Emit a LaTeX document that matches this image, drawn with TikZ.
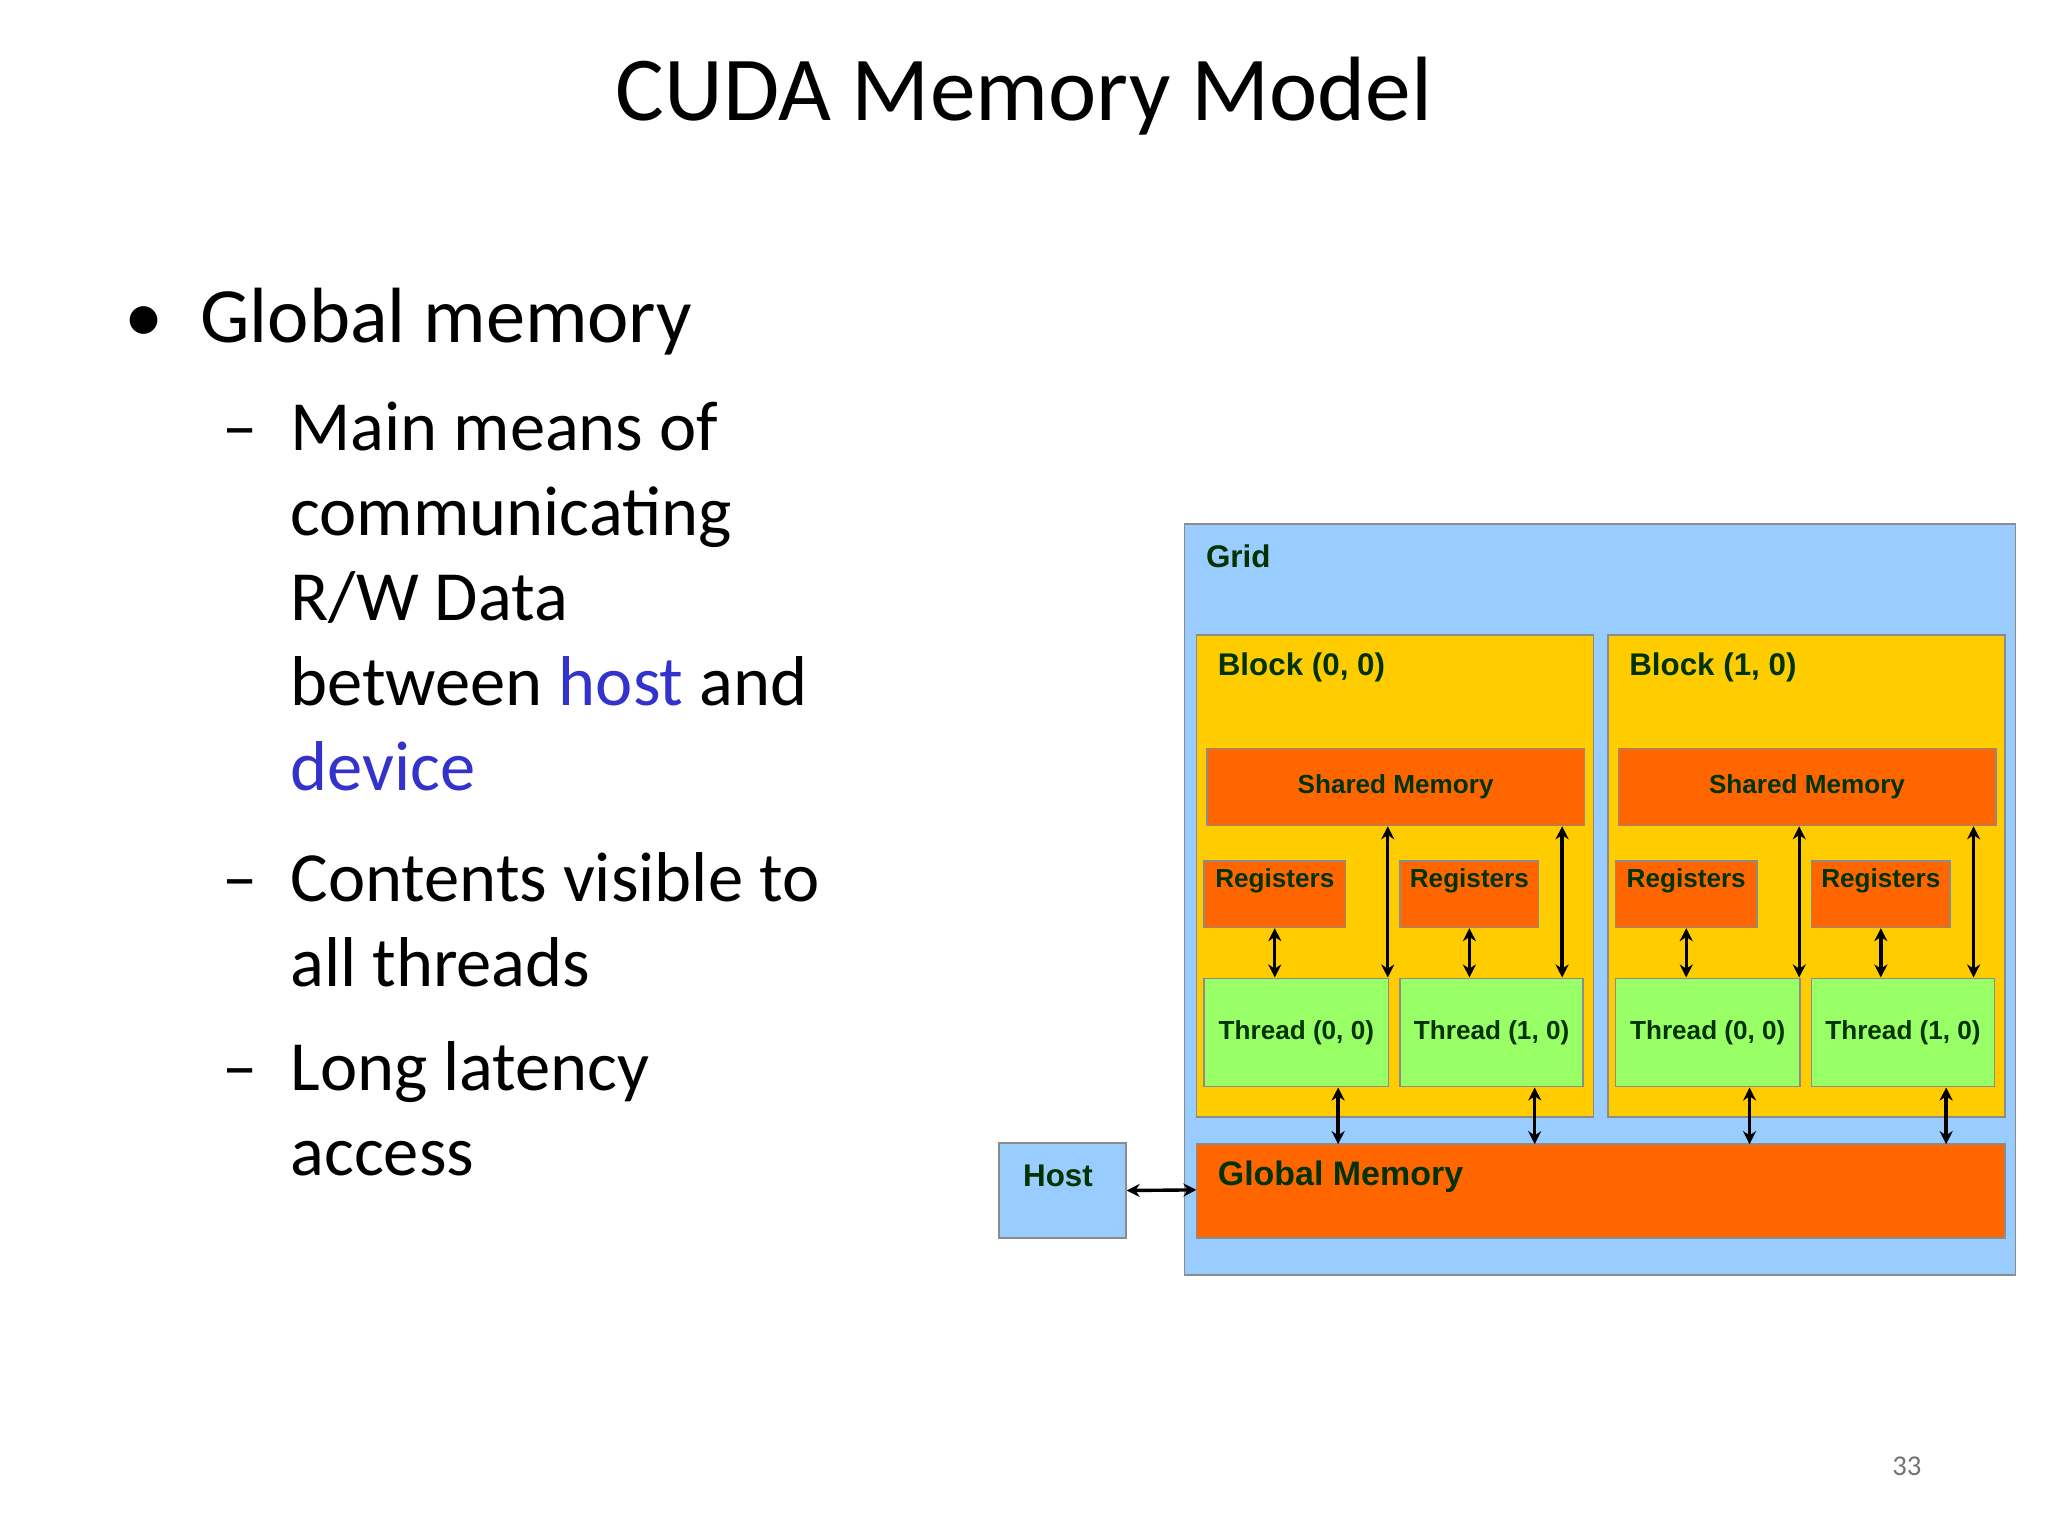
\documentclass[tikz,border=0pt]{standalone}
\usepackage{fontspec}
\setmainfont{Carlito}
\newfontfamily\arialf{Liberation Sans}
\usetikzlibrary{arrows.meta}
\definecolor{gridb}{RGB}{153,204,255}
\definecolor{blocky}{RGB}{255,204,0}
\definecolor{memo}{RGB}{255,102,0}
\definecolor{thg}{RGB}{153,255,102}
\definecolor{dgreen}{RGB}{0,51,0}
\definecolor{hl}{RGB}{51,51,204}
\begin{document}
\begin{tikzpicture}[x=0.5pt,y=-0.5pt,
  box/.style={draw=black!45,line width=0.6pt,inner sep=0pt},
  lab/.style={font=\arialf\bfseries,text=dgreen,inner sep=0pt},
  arr/.style={{Stealth[length=5pt,width=5pt]}-{Stealth[length=5pt,width=5pt]},line width=1.3pt},
  ln/.style={anchor=base west,inner sep=0pt,font=\fontsize{27}{32}\selectfont}]
\useasboundingbox (0,0) rectangle (1568,1176);
% title and text
\node[anchor=base,inner sep=0pt,font=\fontsize{35}{40}\selectfont] (title) at (784,92) {CUDA Memory Model};
\node[ln,font=\fontsize{30}{34}\selectfont] (b0) at (95,262) {•};
\node[ln,font=\fontsize{30}{34}\selectfont] (b1) at (153,262) {Global memory};
\node[ln] (d1) at (170,345) {–};
\node[ln] (t1) at (222,345) {Main means of};
\node[ln] (t2) at (222,410) {communicating};
\node[ln] (t3) at (222,475) {R/W Data};
\node[ln] (t4) at (222,540) {between \textcolor{hl}{host} and};
\node[ln] (t5) at (222,605) {\textcolor{hl}{device}};
\node[ln] (d2) at (170,690) {–};
\node[ln] (t6) at (222,690) {Contents visible to};
\node[ln] (t7) at (222,755) {all threads};
\node[ln] (d3) at (170,835) {–};
\node[ln] (t8) at (222,835) {Long latency};
\node[ln] (t9) at (222,900) {access};
\node[anchor=base,inner sep=0pt,text=black!55,font=\fontsize{11}{13}\selectfont] (pg) at (1460,1130) {33};
% diagram
\draw[box,fill=gridb] (907,401) rectangle (1543,976);
\node[lab,anchor=west,font=\arialf\bfseries\fontsize{12}{14}\selectfont] (gridl) at (923,426) {Grid};
\foreach \n/\dx in {0/0,1/315}{
  \draw[box,fill=blocky] (916+\dx,486) rectangle (1220+\dx,855);
  \node[lab,anchor=west,font=\arialf\bfseries\fontsize{12}{14}\selectfont] (bl\n) at (932+\dx,511) {Block (\n, 0)};
  \node[box,fill=memo,minimum width=144.5pt,minimum height=29.5pt,lab,font=\arialf\bfseries\fontsize{10}{12}\selectfont] (sm\n) at (1068.5+\dx,602.5) {Shared Memory};
  \node[box,fill=memo,minimum width=54pt,minimum height=25.5pt,lab,font=\arialf\bfseries\fontsize{10}{12}\selectfont,text depth=12pt] (ra\n) at (976+\dx,684.5) {Registers};
  \node[box,fill=memo,minimum width=53pt,minimum height=25.5pt,lab,font=\arialf\bfseries\fontsize{10}{12}\selectfont,text depth=12pt] (rb\n) at (1125+\dx,684.5) {Registers};
  \node[box,fill=thg,minimum width=70.5pt,minimum height=41.5pt,lab,font=\arialf\bfseries\fontsize{10}{12}\selectfont] (ta\n) at (992.5+\dx,790.5) {Thread (0, 0)};
  \node[box,fill=thg,minimum width=70pt,minimum height=41.5pt,lab,font=\arialf\bfseries\fontsize{10}{12}\selectfont] (tb\n) at (1142+\dx,790.5) {Thread (1, 0)};
}
\draw[box,fill=memo] (916,876) rectangle (1535,948);
\node[lab,anchor=west,font=\arialf\bfseries\fontsize{13}{15}\selectfont] (gm) at (932,901) {Global Memory};
\coordinate (gmtop) at (916,876);
\node[box,fill=gridb,minimum width=48.5pt,minimum height=36.5pt] (host) at (813.5,911.5) {};
\node[lab,font=\arialf\bfseries\fontsize{12}{14}\selectfont] (hostl) at (810,900) {Host};
\coordinate (gmleft) at (916,911);
\draw[arr] (host.east) -- (gmleft);
\foreach \n/\dx in {0/0,1/315}{
  \draw[arr] (ra\n.south) -- (ra\n.south |- ta\n.north);
  \draw[arr] (rb\n.south) -- (rb\n.south |- tb\n.north);
  \draw[arr] ([xshift=35pt]ta\n.north) -- ([xshift=35pt]ta\n.north |- sm\n.south);
  \draw[arr] ([xshift=27pt]tb\n.north) -- ([xshift=27pt]tb\n.north |- sm\n.south);
  \draw[arr] ([xshift=16pt]ta\n.south) -- ([xshift=16pt]ta\n.south |- gmtop);
  \draw[arr] ([xshift=16.5pt]tb\n.south) -- ([xshift=16.5pt]tb\n.south |- gmtop);
}
\end{tikzpicture}
\end{document}
